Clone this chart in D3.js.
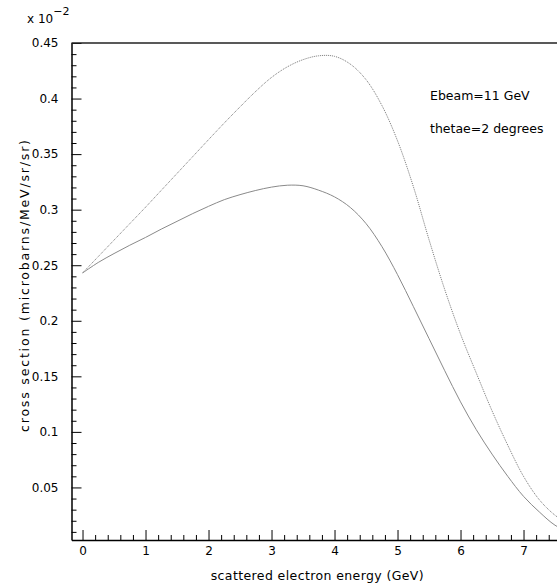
<!DOCTYPE html>
<html>
<head>
<meta charset="utf-8">
<script src="https://cdn.jsdelivr.net/npm/d3@7/dist/d3.min.js"></script>
<style>
  body { margin: 0; background: #fff; }
  svg { display: block; }
  text { font-family: "DejaVu Sans", sans-serif; fill: #000; }
  .axis path, .axis line { stroke: #000; }
</style>
</head>
<body>
<div id="vis"></div>
<script>
// scattered electron energy (GeV)
var energy = [0, 0.25, 0.5, 0.75, 1.0, 1.25, 1.5, 1.75, 2.0, 2.25, 2.5, 2.75, 3.0, 3.25, 3.5, 3.75,
              4.0, 4.25, 4.5, 4.75, 5.0, 5.25, 5.5, 5.75, 6.0, 6.25, 6.5, 6.75, 7.0, 7.25, 7.5, 7.75, 8.0];

// cross section, units of 1e-2 microbarns/MeV/sr/sr
var upperCurve = [0.243, 0.2578, 0.2726, 0.2874, 0.3022, 0.3174, 0.3326, 0.3478, 0.363, 0.378, 0.3925, 0.4065, 0.419, 0.4285, 0.435, 0.4385,
                  0.438, 0.431, 0.417, 0.394, 0.362, 0.321, 0.273, 0.228, 0.188, 0.153, 0.119, 0.088, 0.060, 0.039, 0.025, 0.016, 0.010];
var lowerCurve = [0.243, 0.2525, 0.2605, 0.268, 0.275, 0.2825, 0.2895, 0.2965, 0.303, 0.309, 0.3135, 0.3173, 0.3203, 0.322, 0.3215, 0.3175,
                  0.3115, 0.302, 0.2875, 0.267, 0.2415, 0.213, 0.184, 0.155, 0.127, 0.102, 0.080, 0.060, 0.042, 0.028, 0.016, 0.009, 0.005];

var xMajor = [0, 1, 2, 3, 4, 5, 6, 7];
var yMajor = [0.05, 0.1, 0.15, 0.2, 0.25, 0.3, 0.35, 0.4, 0.45];
var yLabels = ['0.05', '0.1', '0.15', '0.2', '0.25', '0.3', '0.35', '0.4', '0.45'];

var notes = ['Ebeam=11 GeV', 'thetae=2 degrees'];

var width = 557, height = 585;
var margin = { left: 71.5, top: 43, bottom: 45 };

var svg = d3.select('#vis').append('svg')
    .attr('width', width)
    .attr('height', height);

var xScale = d3.scaleLinear()
    .domain([-0.175, 8.0])
    .range([margin.left, margin.left + 8.175 * 63]);

var yScale = d3.scaleLinear()
    .domain([0.0027, 0.45])
    .range([height - margin.bottom, margin.top]);

var xMinor = d3.range(0, 8.01, 0.2).filter(function(d) { return Math.abs(d - Math.round(d)) > 0.01; });
var yMinor = d3.range(0.01, 0.451, 0.01).filter(function(d) { return Math.abs(d * 20 - Math.round(d * 20)) > 0.01; });

// minor ticks
svg.append('g')
    .attr('class', 'axis')
    .attr('transform', 'translate(0,' + (height - margin.bottom) + ')')
    .call(d3.axisBottom(xScale).tickValues(xMinor).tickSize(-5).tickFormat(''))
    .call(function(g) { g.select('.domain').remove(); });

svg.append('g')
    .attr('class', 'axis')
    .attr('transform', 'translate(' + margin.left + ',0)')
    .call(d3.axisLeft(yScale).tickValues(yMinor).tickSize(-5).tickFormat(''))
    .call(function(g) { g.select('.domain').remove(); });

// major ticks with labels
var xAxisG = svg.append('g')
    .attr('class', 'axis')
    .attr('transform', 'translate(0,' + (height - margin.bottom) + ')')
    .call(d3.axisBottom(xScale).tickValues(xMajor).tickSize(-10).tickSizeOuter(0).tickPadding(6).tickFormat(d3.format('d')));
xAxisG.selectAll('text').style('font-size', '12px');
xAxisG.select('.domain').attr('stroke-width', 1.5);

var yAxisG = svg.append('g')
    .attr('class', 'axis')
    .attr('transform', 'translate(' + margin.left + ',0)')
    .call(d3.axisLeft(yScale).tickValues(yMajor).tickSize(-10).tickSizeOuter(0).tickPadding(13)
        .tickFormat(function(d, i) { return yLabels[i]; }));
yAxisG.selectAll('text').style('font-size', '12px');
yAxisG.select('.domain').attr('stroke-width', 1.5);

// top frame line
svg.append('line')
    .attr('x1', margin.left).attr('x2', xScale(8.0))
    .attr('y1', yScale(0.45)).attr('y2', yScale(0.45))
    .attr('stroke', '#222').attr('stroke-width', 1.5);

// curves
var line = d3.line()
    .x(function(d) { return xScale(d[0]); })
    .y(function(d) { return yScale(d[1]); })
    .curve(d3.curveCatmullRom.alpha(0.5));

svg.append('path')
    .datum(energy.map(function(e, i) { return [e, upperCurve[i]]; }))
    .attr('d', line)
    .attr('fill', 'none')
    .attr('stroke', '#777')
    .attr('stroke-width', 1)
    .attr('stroke-dasharray', '1,1');

svg.append('path')
    .datum(energy.map(function(e, i) { return [e, lowerCurve[i]]; }))
    .attr('d', line)
    .attr('fill', 'none')
    .attr('stroke', '#8a8a8a')
    .attr('stroke-width', 1);

// axis titles
svg.append('text')
    .attr('x', xScale(3.725))
    .attr('y', 580)
    .attr('text-anchor', 'middle')
    .style('font-size', '12.5px')
    .attr('textLength', 213)
    .text('scattered electron energy (GeV)');

svg.append('text')
    .attr('transform', 'translate(29,286) rotate(-90)')
    .attr('text-anchor', 'middle')
    .style('font-size', '12.5px')
    .attr('textLength', 292)
    .text('cross section (microbarns/MeV/sr/sr)');

// exponent label
var expo = svg.append('text')
    .attr('x', 27)
    .attr('y', 23)
    .style('font-size', '12px');
expo.append('tspan').text('x 10');
expo.append('tspan').attr('dy', -8).style('font-size', '11px').text('\u22122');

// notes
svg.selectAll('.note')
    .data(notes)
    .enter().append('text')
    .attr('class', 'note')
    .attr('x', 430)
    .attr('y', function(d, i) { return 100 + i * 33; })
    .style('font-size', '12.5px')
    .text(function(d) { return d; });
</script>
</body>
</html>
